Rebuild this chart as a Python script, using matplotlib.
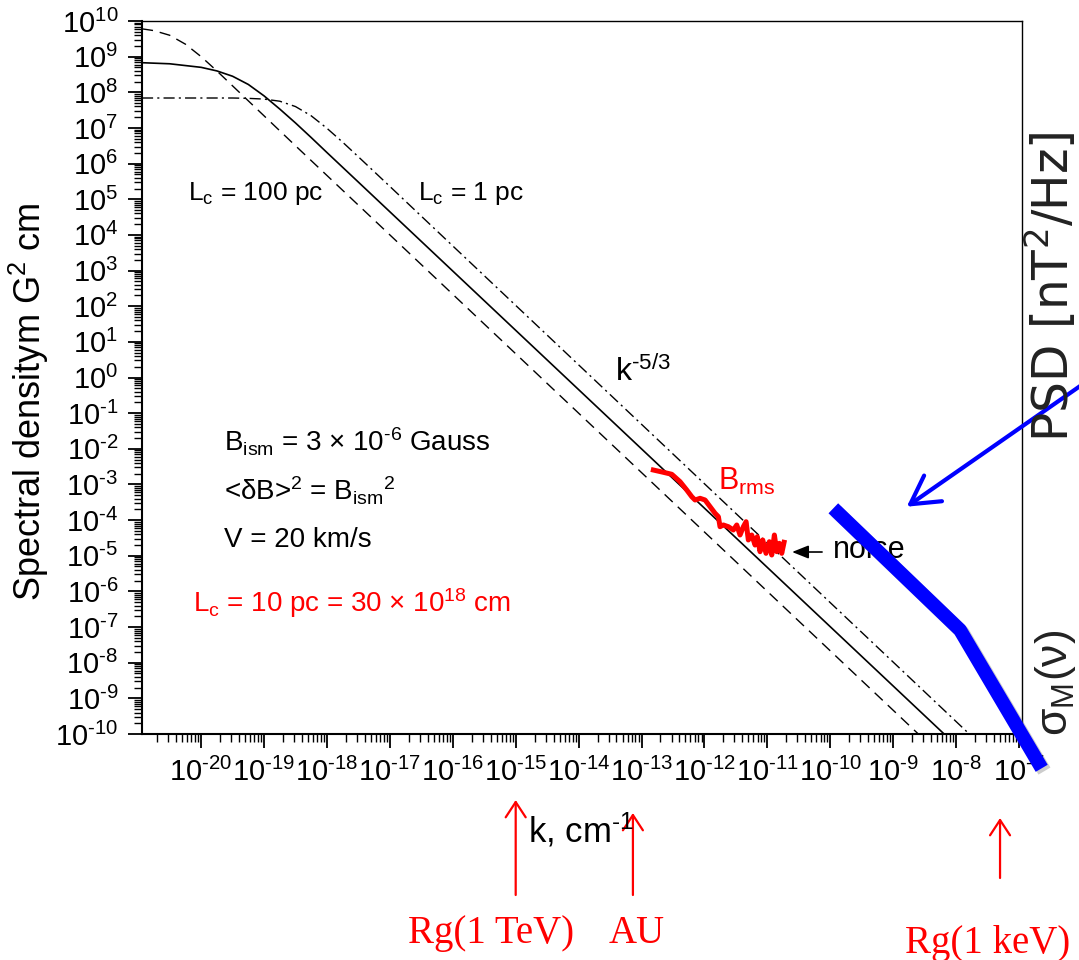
import numpy as np
import matplotlib
matplotlib.use('Agg')
import matplotlib.pyplot as plt
import matplotlib.patheffects as pe
from matplotlib.ticker import LogLocator, FuncFormatter, NullFormatter

plt.rcParams['font.family'] = ['Liberation Sans', 'DejaVu Sans']
plt.rcParams['mathtext.fontset'] = 'custom'
plt.rcParams['mathtext.rm'] = 'Liberation Sans'
plt.rcParams['mathtext.it'] = 'Liberation Sans:italic'
plt.rcParams['mathtext.bf'] = 'Liberation Sans:bold'
plt.rcParams['mathtext.default'] = 'regular'

W, H = 1079, 960

# model spectra, log10(k) and log10(P)
lc10_logk = [-20.94, -20.5, -20.0, -19.75, -19.5, -19.25, -19.0, -18.75, -18.5, -18.25, -18.0, -17.5, -8.19]
lc10_logp = [8.83, 8.80, 8.70, 8.60, 8.45, 8.22, 7.90, 7.53, 7.14, 6.73, 6.31, 5.48, -10.0]

lc100_logk = [-20.94, -20.75, -20.5, -20.25, -20.0, -19.75, -19.5, -19.25, -19.0, -18.5, -8.6]
lc100_logp = [9.78, 9.73, 9.60, 9.35, 9.00, 8.60, 8.18, 7.76, 7.34, 6.50, -10.0]

lc1_logk = [-20.94, -19.5, -19.25, -19.0, -18.75, -18.5, -18.25, -18.0, -17.75, -17.5, -17.0, -16.0, -7.79]
lc1_logp = [7.84, 7.84, 7.83, 7.81, 7.75, 7.60, 7.34, 6.99, 6.60, 6.19, 5.36, 3.69, -10.0]

# measured B_rms spectrum (red)
brms_logk = [-12.812, -12.653, -12.519, -12.387, -12.281, -12.201, -12.149, -12.069, -11.990,
             -11.910, -11.831, -11.778, -11.752, -11.699, -11.620, -11.540, -11.486, -11.434,
             -11.381, -11.338, -11.302, -11.248, -11.195, -11.159, -11.116, -11.073, -11.021,
             -10.968, -10.930, -10.888, -10.850, -10.809, -10.771, -10.734]
brms_logp = [-2.595, -2.659, -2.715, -2.923, -3.156, -3.344, -3.436, -3.389, -3.436,
             -3.624, -3.809, -3.905, -4.185, -4.137, -4.185, -4.278, -4.137, -4.418,
             -4.185, -4.045, -4.558, -4.418, -4.699, -4.466, -4.886, -4.558, -4.932,
             -4.606, -4.979, -4.418, -4.886, -4.651, -4.932, -4.623]

# pasted PSD sketch (blue)
psd_logk = [-9.951, -7.937, -6.639]
psd_logp = [-3.669, -7.083, -10.962]

# marked scales below the axis
scale_k = [1.0e-15, 7.3e-14, 5.0e-8]
scale_labels = ['Rg(1 TeV)', 'AU', 'Rg(1 keV)']

XMIN, XMAX = 10 ** -20.94, 10 ** -6.952
YMIN, YMAX = 1e-10, 1e10


def fpos(x, y):
    return x / W, 1 - y / H


def ten(vals):
    return 10.0 ** np.array(vals)


def pow_formatter(lo, hi):
    # 10^n labels with a plain hyphen, nothing outside the view
    def fmt(v, pos):
        if v < lo * 0.999 or v > hi * 1.001:
            return ''
        e = int(round(np.log10(v)))
        if e < 0:
            return r'$10^{\text{-}%d}$' % (-e)
        return r'$10^{%d}$' % e
    return FuncFormatter(fmt)


fig = plt.figure(figsize=(W / 100, H / 100), dpi=100)
ax = fig.add_axes([142 / W, (H - 734) / H, 880 / W, 713 / H])

ax.plot(ten(lc10_logk), ten(lc10_logp), color='black', lw=1.2)
ax.plot(ten(lc100_logk), ten(lc100_logp), color='black', lw=1.0, linestyle=(0, (8, 5)))
ax.plot(ten(lc1_logk), ten(lc1_logp), color='black', lw=1.0, linestyle=(0, (8, 3, 1.5, 3)))
ax.plot(ten(brms_logk), ten(brms_logp), color='red', lw=3.6, solid_joinstyle='round')

ax.plot(ten(psd_logk), ten(psd_logp), color='#0000ff', lw=10, solid_capstyle='butt',
        clip_on=False, zorder=10,
        path_effects=[pe.SimpleLineShadow(offset=(2, -2), shadow_color='gray', alpha=0.4), pe.Normal()])

ax.set_xscale('log')
ax.set_yscale('log')
ax.set_xlim(XMIN, XMAX)
ax.set_ylim(YMIN, YMAX)

ax.xaxis.set_major_locator(LogLocator(base=10, numticks=40))
ax.yaxis.set_major_locator(LogLocator(base=10, numticks=40))
ax.xaxis.set_minor_locator(LogLocator(base=10, subs=np.arange(2, 10), numticks=40))
ax.yaxis.set_minor_locator(LogLocator(base=10, subs=np.arange(2, 10), numticks=40))
ax.xaxis.set_major_formatter(pow_formatter(XMIN, XMAX))
ax.yaxis.set_major_formatter(pow_formatter(YMIN, YMAX))
ax.xaxis.set_minor_formatter(NullFormatter())
ax.yaxis.set_minor_formatter(NullFormatter())

ax.tick_params(which='major', direction='out', length=10, width=1.3, labelsize=21, pad=7)
ax.tick_params(which='minor', direction='out', length=6, width=1.0)
ax.tick_params(top=False, right=False, which='both')
for s in ['left', 'bottom']:
    ax.spines[s].set_linewidth(1.5)
for s in ['top', 'right']:
    ax.spines[s].set_linewidth(1.0)

# axis titles
fig.text(*fpos(29, 402), r'Spectral densitym G$^2$ cm', rotation=90, ha='center', va='center', fontsize=26)
fig.text(*fpos(528, 842), r'k, cm$^{\text{-}1}$', ha='left', va='baseline', fontsize=25)

# annotations inside the plot
fig.text(*fpos(188, 200), r'L$_c$ = 100 pc', fontsize=19, va='baseline')
fig.text(*fpos(418, 200), r'L$_c$ = 1 pc', fontsize=19, va='baseline')
fig.text(*fpos(615, 381), r'k$^{\text{-}5/3}$', fontsize=23, va='baseline')
fig.text(*fpos(224, 452), r'B$_{ism}$ = 3 × 10$^{\text{-}6}$ Gauss', fontsize=20, va='baseline')
fig.text(*fpos(224, 500), r'<δB>$^2$ = B$_{ism}$$^{2}$', fontsize=20, va='baseline')
fig.text(*fpos(224, 547), r'V = 20 km/s', fontsize=20, va='baseline')
fig.text(*fpos(193, 612), r'L$_c$ = 10 pc = 30 × 10$^{18}$ cm', fontsize=20, va='baseline', color='red')
fig.text(*fpos(718, 490), r'B$_{rms}$', fontsize=22, va='baseline', color='red')
# noise label sits under the blue sketch
ax.text(*fpos(833, 558), 'noise', fontsize=22, va='baseline', transform=fig.transFigure,
        clip_on=False, zorder=5)

ax.annotate('', xy=(10 ** -10.607, 10 ** -4.895), xytext=(10 ** -10.13, 10 ** -4.895),
            arrowprops=dict(arrowstyle='-|>,head_length=0.5,head_width=0.2', color='black',
                            lw=1.2, shrinkA=0, shrinkB=0, mutation_scale=20))

# blue pointer to the PSD sketch
ax.annotate('', xy=(10 ** -8.784, 10 ** -3.624), xytext=(10 ** -5.95, 10 ** -0.143),
            annotation_clip=False,
            arrowprops=dict(arrowstyle='->,head_length=0.8,head_width=0.45', color='#0000ff',
                            lw=3, shrinkA=0, shrinkB=0, mutation_scale=25))

# right-hand labels from the pasted PSD figure
fig.text(*fpos(1051, 287), r'PSD [nT$^2$/Hz]', rotation=90, ha='center', va='center',
         fontsize=35, color='#222222', family='DejaVu Sans')
fig.text(*fpos(1055, 683), r'$\sigma_M(\nu)$', rotation=90, ha='center', va='center',
         fontsize=32, color='#222222', math_fontfamily='cm')

# scale markers below the axis
tips = [800, 813, 818]
tails = [895, 895, 878]
label_x = [491, 637, 905]
label_y = [943, 943, 953]
label_ha = ['center', 'center', 'left']
for k, lab, t0, t1, lx, ly, lha in zip(scale_k, scale_labels, tips, tails, label_x, label_y, label_ha):
    ax.annotate('', xy=(k, H - t0), xycoords=('data', 'figure pixels'),
                xytext=(k, H - t1), textcoords=('data', 'figure pixels'),
                annotation_clip=False,
                arrowprops=dict(arrowstyle='->,head_length=0.55,head_width=0.36', color='red',
                                lw=1.6, shrinkA=0, shrinkB=0, mutation_scale=20))
    fig.text(*fpos(lx, ly), lab, ha=lha, va='baseline', fontsize=28, color='red',
             family='Liberation Serif')

fig.savefig('out.png', dpi=100)
